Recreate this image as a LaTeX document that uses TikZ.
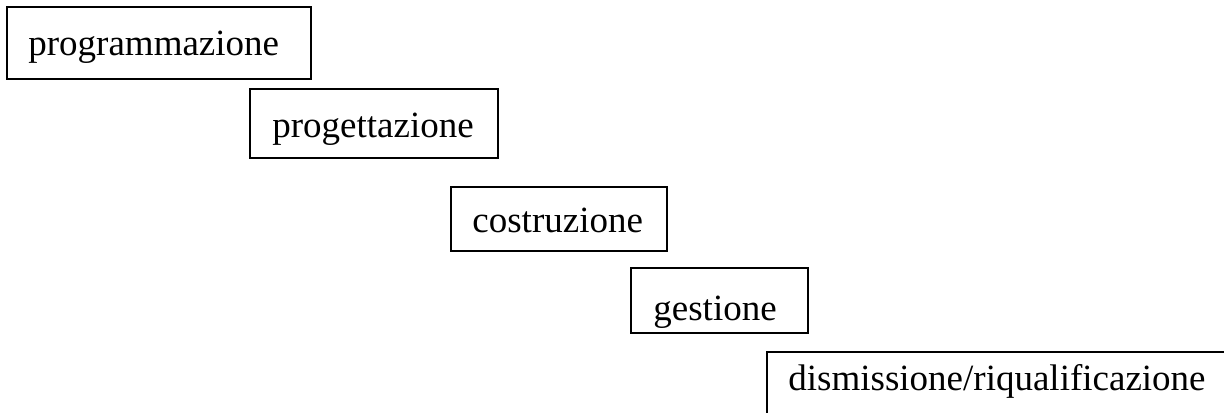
\documentclass[tikz,border=0pt]{standalone}
\usepackage{fontspec}
\setmainfont{Liberation Serif}
\begin{document}
\begin{tikzpicture}[x=0.5pt,y=-0.5pt,
  box/.style={draw=black,line width=1pt},
  lbl/.style={anchor=base west,inner sep=0pt,font=\fontsize{18.5}{22}\selectfont}]
\useasboundingbox (0,0) rectangle (1224,412);
\draw[box] (7,7) rectangle (311,79);
\node[lbl] (t1) at (28,55) {programmazione};
\draw[box] (250,89) rectangle (498,158);
\node[lbl] (t2) at (272,137) {progettazione};
\draw[box] (451,187) rectangle (667,251);
\node[lbl] (t3) at (472,232) {costruzione};
\draw[box] (631,268) rectangle (808,333);
\node[lbl] (t4) at (653,320) {gestione};
\draw[box] (1230,352) -- (767,352) -- (767,420);
\node[lbl] (t5) at (788,390) {dismissione/riqualificazione};
\end{tikzpicture}
\end{document}
